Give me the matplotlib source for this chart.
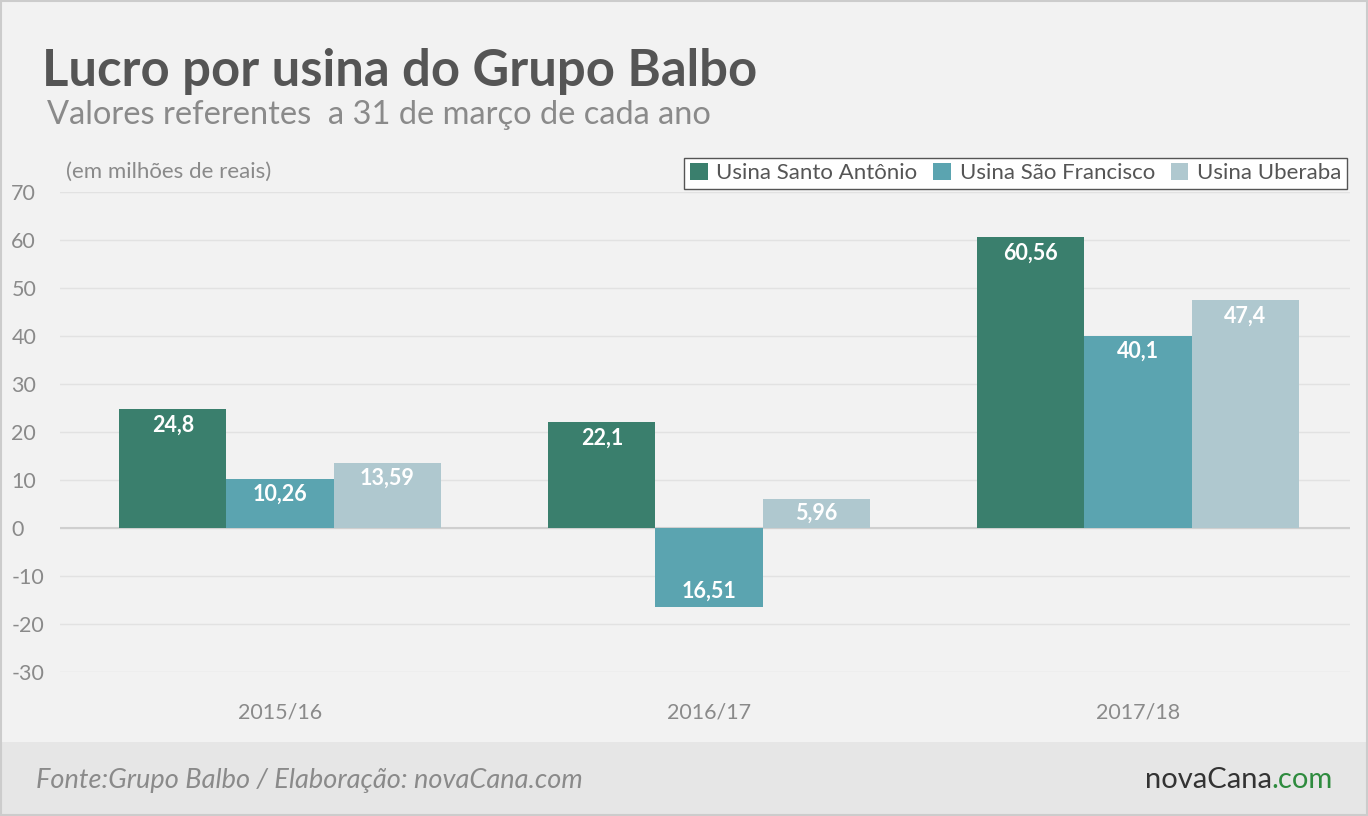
import matplotlib
matplotlib.use("Agg")
import matplotlib.pyplot as plt
import numpy as np
from matplotlib.patches import Rectangle

plt.rcParams['font.family'] = ['Lato', 'DejaVu Sans']

categories = ["2015/16", "2016/17", "2017/18"]
series = ["Usina Santo Antônio", "Usina São Francisco", "Usina Uberaba"]
santo = [24.8, 22.1, 60.56]
sao = [10.26, -16.51, 40.1]
uberaba = [13.59, 5.96, 47.4]
labels = [["24,8", "22,1", "60,56"], ["10,26", "16,51", "40,1"], ["13,59", "5,96", "47,4"]]
colors = ["#3a7f6d", "#5ba4b0", "#afc8cf"]
yticks = [70, 60, 50, 40, 30, 20, 10, 0, -10, -20, -30]

fig = plt.figure(figsize=(13.68, 8.16), dpi=100, facecolor="#f2f2f2")
fig.patches.append(Rectangle((0, 0), 1, (816-742)/816, transform=fig.transFigure,
                             facecolor="#e6e6e6", edgecolor="none", zorder=0))
fig.patches.append(Rectangle((0.001, 0.001), 0.998, 0.998, transform=fig.transFigure,
                             facecolor="none", edgecolor="#cccccc", lw=1.5, zorder=1))

ax = fig.add_axes([0.0439, 0.1765, 0.9429, 0.5882])
ax.set_facecolor("#f2f2f2")
x = np.arange(len(categories))
w = 0.25
for i, (vals, c) in enumerate(zip([santo, sao, uberaba], colors)):
    xs = x + (i - 1) * w
    ax.bar(xs, vals, w, color=c, label=series[i], zorder=3)
    for xx, v, lab in zip(xs, vals, labels[i]):
        if v > 8:
            ypos = v - 3.3
        elif v > 0:
            ypos = v / 2
        else:
            ypos = v + 3.3
        ax.text(xx, ypos, lab, ha="center", va="center", color="white",
                fontsize=15.5, fontweight="bold", zorder=4)

ax.set_xlim(-0.513, 2.494)
ax.set_ylim(-30, 70)
ax.set_yticks(yticks)
ax.set_yticklabels([str(t) for t in yticks])
ax.set_xticks(x)
ax.set_xticklabels(categories)
ax.grid(axis="y", color="#e2e2e2", lw=1, zorder=0)
ax.axhline(0, color="#cfcfcf", lw=1.5, zorder=2)
for s in ax.spines.values():
    s.set_visible(False)
ax.tick_params(axis="both", length=0, labelsize=15.5, colors="#8a8a8a")
ax.tick_params(axis="x", pad=22)
for t in ax.get_yticklabels():
    t.set_horizontalalignment("left")
    t.set_x(-0.034)

leg = ax.legend(loc="upper right", bbox_to_anchor=(1.0065, 1.095), ncol=3, frameon=True,
                fancybox=False, edgecolor="#555555", facecolor="#ffffff", fontsize=16,
                handlelength=0.8, handleheight=0.8, handletextpad=0.4, columnspacing=0.7,
                borderpad=0.25, framealpha=1)
for t in leg.get_texts():
    t.set_color("#555555")
leg.get_frame().set_linewidth(1)

fig.text(0.031, 0.912, "Lucro por usina do Grupo Balbo", fontsize=36.5, color="#555555",
         fontweight="bold", va="center")
fig.text(0.034, 0.859, "Valores referentes  a 31 de março de cada ano", fontsize=23.5,
         color="#8a8a8a", va="center")
fig.text(0.048, 0.79, "(em milhões de reais)", fontsize=16, color="#8a8a8a", va="center")
fig.text(0.026, 0.044, "Fonte:Grupo Balbo / Elaboração: novaCana.com", fontsize=19.5,
         color="#8a8a8a", style="italic", va="center")
t1 = fig.text(0.9745, 0.044, ".com", fontsize=21, color="#2e8b3e", ha="right", va="center")
fig.canvas.draw()
bb = t1.get_window_extent()
fig.text(bb.x0 / fig.bbox.width, 0.044, "novaCana", fontsize=21, color="#333333",
         ha="right", va="center")

fig.savefig("out.png", dpi=100, facecolor=fig.get_facecolor())
